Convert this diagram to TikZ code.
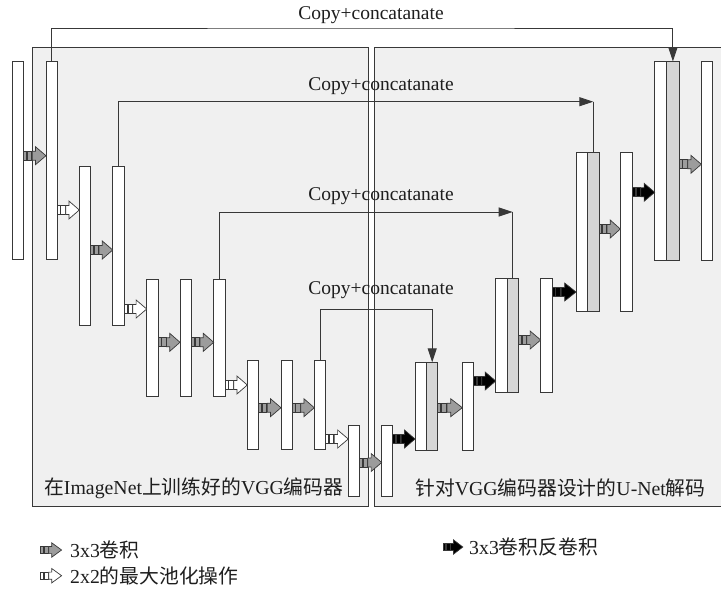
\documentclass[tikz,border=0pt]{standalone}
\usepackage{fontspec}
\setmainfont{Liberation Serif}
\newfontfamily\cjk{Noto Sans CJK SC}
\usetikzlibrary{arrows.meta,calc}
\definecolor{panelbg}{HTML}{F0F0F0}
\definecolor{edge}{HTML}{383838}
\definecolor{convgray}{HTML}{9C9C9C}
\definecolor{catgray}{HTML}{D6D6D6}
\definecolor{txt}{HTML}{1E1E1E}
\tikzset{
  pics/blockarr/.style={code={
    \path[draw=edge, line width=0.7pt, fill=#1] (0,-4.5) rectangle (2.8,4.5) (3.5,-4.5) rectangle (7.7,4.5);
    \path[draw=edge, line width=0.7pt, fill=#1] (8.4,-4.5) -- (11.6,-4.5) -- (11.6,-9) -- (22,0) -- (11.6,9) -- (11.6,4.5) -- (8.4,4.5) -- cycle;
  }}
}
\newcommand\mkbar[6]{\node[#6, minimum width={(#3)-(#2)}, minimum height={(#5)-(#4)}] (#1) at ({((#2)+(#3))/2},{((#4)+(#5))/2}) {};}
\newcommand\conn[4]{\path let \p1=(#1.east), \p2=(#2.west) in (\x1,-#3pt) pic[xscale={(\x2-\x1)/22}]{blockarr=#4};}
\begin{document}
\begin{tikzpicture}[x=1pt,y=-1pt,
  panel/.style={draw=edge, fill=panelbg, line width=0.9pt, inner sep=0pt, outer sep=0pt},
  barbox/.style={draw=edge, fill=white, line width=0.9pt, inner sep=0pt, outer sep=0pt},
  catbox/.style={barbox, fill=catgray},
  copyline/.style={draw=edge, line width=0.9pt},
  tip/.style={-{Triangle[length=14pt,width=9pt]}},
  lbl/.style={font=\fontsize{19.5}{21}\selectfont, text=txt, inner sep=0pt},
  plbl/.style={font=\fontsize{19.8}{21}\selectfont, text=txt, inner sep=0pt},
]
\useasboundingbox (0,0) rectangle (721,590);
% panels
\mkbar{encpanel}{32.7}{368.3}{47.3}{506.7}{panel}
\mkbar{decpanel}{374.3}{722}{47.3}{506.7}{panel}
% bars
\mkbar{b0}{12.3}{23.7}{61.5}{259}{barbox}
\mkbar{b1}{46}{57.3}{61.5}{259}{barbox}
\mkbar{b2}{79.3}{90.7}{166.7}{325}{barbox}
\mkbar{b3}{112.7}{124.3}{166.7}{325}{barbox}
\mkbar{b4}{146.7}{158.3}{279.3}{396}{barbox}
\mkbar{b5}{180}{191.7}{279.3}{396}{barbox}
\mkbar{b6}{213.7}{225.3}{279.3}{396}{barbox}
\mkbar{b7}{247.3}{258.7}{360.3}{449}{barbox}
\mkbar{b8}{281}{292.3}{360.3}{449}{barbox}
\mkbar{b9}{314.3}{325.7}{360.3}{449}{barbox}
\mkbar{b10}{348.3}{359.3}{425.7}{496.7}{barbox}
\mkbar{b11}{381.7}{392.7}{425.7}{496.7}{barbox}
\mkbar{b12}{415}{426.7}{362.3}{450.5}{barbox}
\mkbar{b12g}{426.7}{437.7}{362.3}{450.5}{catbox}
\mkbar{b13}{462.3}{473.3}{362.3}{450.5}{barbox}
\mkbar{b14}{495.7}{507}{278}{392.7}{barbox}
\mkbar{b14g}{507}{518.3}{278}{392.7}{catbox}
\mkbar{b15}{540.7}{552}{278}{392.7}{barbox}
\mkbar{b16}{576}{587.7}{152.3}{311}{barbox}
\mkbar{b16g}{587.7}{599}{152.3}{311}{catbox}
\mkbar{b17}{620.3}{632.3}{152.3}{311}{barbox}
\mkbar{b18}{654.7}{666.5}{61.5}{260}{barbox}
\mkbar{b18g}{666.5}{679.3}{61.5}{260}{catbox}
\mkbar{b19}{701.3}{712.7}{61.5}{260}{barbox}
% block arrows between bars
\conn{b0}{b1}{155.7}{convgray}
\conn{b1}{b2}{210}{white}
\conn{b2}{b3}{250}{convgray}
\conn{b3}{b4}{309}{white}
\conn{b4}{b5}{342.3}{convgray}
\conn{b5}{b6}{342.3}{convgray}
\conn{b6}{b7}{385}{white}
\conn{b7}{b8}{407.7}{convgray}
\conn{b8}{b9}{407.7}{convgray}
\conn{b9}{b10}{439}{white}
\conn{b10}{b11}{462.5}{convgray}
\conn{b11}{b12}{439}{black}
\conn{b12g}{b13}{407.7}{convgray}
\conn{b13}{b14}{381}{black}
\conn{b14g}{b15}{340}{convgray}
\conn{b15}{b16}{292}{black}
\conn{b16g}{b17}{229}{convgray}
\conn{b17}{b18}{192.3}{black}
\conn{b18g}{b19}{164.3}{convgray}
% copy + concatenate connectors
\coordinate (k1) at (360,28);
\coordinate (k2) at (360,101.7);
\coordinate (k3) at (360,212);
\coordinate (k4) at (376,309.5);
\draw[copyline,tip] (b1.north) |- (k1) -| (b18g.north);
\draw[copyline,tip] (b3.north) |- (b16g.north |- k2);
\draw[copyline] (b16g.north |- k2) -- (b16g.north);
\draw[copyline,tip] (b6.north) |- (b14g.north |- k3);
\draw[copyline] (b14g.north |- k3) -- (b14g.north);
\draw[copyline,tip] (b9.north) |- (k4) -| (b12g.north);
\node[lbl] (cc1) at (371,15) {Copy+concatanate};
\node[lbl] (cc2) at (381,86) {Copy+concatanate};
\node[lbl] (cc3) at (381,196) {Copy+concatanate};
\node[lbl] (cc4) at (381,290) {Copy+concatanate};
% panel labels
\node[plbl, anchor=west] (enclbl) at (44,488) {{\cjk 在}ImageNet{\cjk 上训练好的}VGG{\cjk 编码器}};
\node[plbl, anchor=west] (declbl) at (415,488) {{\cjk 针对}VGG{\cjk 编码器设计的}U-Net{\cjk 解码}};
% legend
\pic[xscale=0.95,yscale=0.8] at (40.7,550) {blockarr=convgray};
\pic[xscale=0.95,yscale=0.8] at (40.7,575.7) {blockarr=white};
\pic[xscale=0.9,yscale=0.8] at (443,547) {blockarr=black};
\node[plbl, anchor=west] (lg1) at (70,550) {3x3{\cjk 卷积}};
\node[plbl, anchor=west] (lg2) at (70,575.7) {2x2{\cjk 的最大池化操作}};
\node[plbl, anchor=west] (lg3) at (469,547) {3x3{\cjk 卷积反卷积}};
\end{tikzpicture}
\end{document}
